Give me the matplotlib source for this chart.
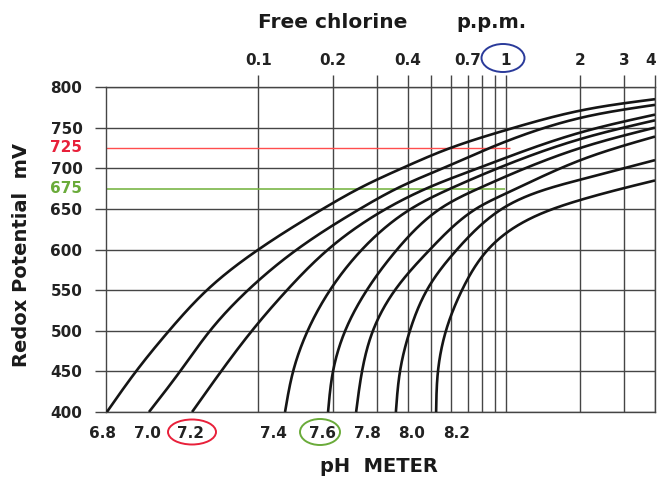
import numpy as np
import matplotlib.pyplot as plt
from matplotlib.patches import Ellipse
import matplotlib.transforms as mtransforms

# pH curves: free chlorine (ppm) vs redox potential (mV)
ppm_68 = [0.0244, 0.0320, 0.0435, 0.0619, 0.100, 0.182, 0.262, 0.380, 0.562, 1.0, 2.0, 4.0]
mv_68 = [400, 450, 500, 550, 600, 650, 677, 700, 722, 747, 771, 785]
ppm_70 = [0.0361, 0.0482, 0.0637, 0.0907, 0.143, 0.257, 0.373, 0.556, 0.815, 1.0, 2.0, 4.0]
mv_70 = [400, 450, 500, 550, 600, 650, 677, 700, 722, 733, 762, 778]
ppm_72 = [0.0539, 0.0706, 0.0941, 0.1304, 0.191, 0.3275, 0.493, 0.771, 1.0, 2.0, 4.0]
mv_72 = [400, 450, 500, 550, 600, 650, 677, 700, 713, 744, 766]
ppm_74 = [0.128, 0.138, 0.158, 0.1945, 0.262, 0.413, 0.617, 1.0, 2.0, 4.0]
mv_74 = [400, 450, 500, 550, 600, 650, 677, 704, 736, 759]
ppm_76 = [0.191, 0.200, 0.224, 0.274, 0.363, 0.541, 0.800, 1.0, 2.0, 4.0]
mv_76 = [400, 450, 500, 550, 600, 650, 677, 690, 725, 750]
ppm_78 = [0.248, 0.262, 0.290, 0.356, 0.493, 0.756, 1.0, 2.0, 4.0]
mv_78 = [400, 450, 500, 550, 600, 650, 669, 710, 739]
ppm_80 = [0.359, 0.373, 0.409, 0.479, 0.634, 0.963, 2.0, 4.0]
mv_80 = [400, 450, 500, 550, 600, 650, 686, 710]
ppm_82 = [0.522, 0.531, 0.572, 0.664, 0.846, 1.0, 2.0, 4.0]
mv_82 = [400, 450, 500, 550, 600, 620, 661, 685]

curves = [(ppm_68, mv_68), (ppm_70, mv_70), (ppm_72, mv_72), (ppm_74, mv_74),
          (ppm_76, mv_76), (ppm_78, mv_78), (ppm_80, mv_80), (ppm_82, mv_82)]
ph_labels = ['6.8', '7.0', '7.2', '7.4', '7.6', '7.8', '8.0', '8.2']

chlorine_lines = [0.1, 0.2, 0.3, 0.4, 0.5, 0.6, 0.7, 0.8, 0.9, 1, 2, 3, 4]
chlorine_labels = {0.1: '0.1', 0.2: '0.2', 0.4: '0.4', 0.7: '0.7', 1: '1', 2: '2', 3: '3', 4: '4'}
mv_ticks = [400, 450, 500, 550, 600, 650, 700, 750, 800]
red_level = 725
green_level = 675


def natural_spline(t, y, ts):
    # plain natural cubic spline, just to draw a smooth line through the read points
    t = np.asarray(t, float)
    y = np.asarray(y, float)
    n = len(t)
    h = np.diff(t)
    A = np.zeros((n, n))
    r = np.zeros(n)
    A[0, 0] = A[-1, -1] = 1
    for i in range(1, n - 1):
        A[i, i - 1] = h[i - 1]
        A[i, i] = 2 * (h[i - 1] + h[i])
        A[i, i + 1] = h[i]
        r[i] = 3 * ((y[i + 1] - y[i]) / h[i] - (y[i] - y[i - 1]) / h[i - 1])
    c = np.linalg.solve(A, r)
    b = np.diff(y) / h - h * (2 * c[:-1] + c[1:]) / 3
    d = np.diff(c) / (3 * h)
    k = np.clip(np.searchsorted(t, ts) - 1, 0, n - 2)
    s = ts - t[k]
    return y[k] + b[k] * s + c[k] * s**2 + d[k] * s**3


def smooth_curve(ppm, mv):
    # chord-length parameter in roughly screen-like units
    u = 247.5 * np.log10(ppm)
    v = 0.8125 * np.asarray(mv, float)
    t = np.concatenate([[0], np.cumsum(np.hypot(np.diff(u), np.diff(v)))])
    ts = np.linspace(0, t[-1], 600)
    return 10 ** (natural_spline(t, u, ts) / 247.5), natural_spline(t, v, ts) / 0.8125


W, H = 658, 479
fig = plt.figure(figsize=(W / 100, H / 100), dpi=100)
ax = fig.add_axes([106 / W, 1 - 412 / H, (655 - 106) / W, (412 - 87) / H])

grid_c = '#454545'
xmin = 10 ** ((106 - 506) / 247.5)
ax.set_xscale('log')
ax.set_xlim(xmin, 4)
ax.set_ylim(400, 800)

for v in chlorine_lines:
    ax.axvline(v, color=grid_c, lw=1.0, zorder=1)
for v in mv_ticks:
    ax.axhline(v, color=grid_c, lw=1.0, zorder=1)

ax.hlines(red_level, xmin, 1.04, color='#ff4d4d', lw=1.0, zorder=2)
ax.hlines(green_level, xmin, 0.99, color='#7ab648', lw=1.2, zorder=2)

for ppm, mv in curves:
    xs, ys = smooth_curve(ppm, mv)
    ax.plot(xs, ys, color='#151515', lw=1.9, zorder=3, solid_capstyle='butt')

for s in ax.spines.values():
    s.set_color(grid_c)
    s.set_linewidth(1.0)

# top axis: chlorine
ax.xaxis.set_ticks_position('top')
ax.xaxis.set_label_position('top')
ax.set_xticks(chlorine_lines)
ax.set_xticklabels([chlorine_labels.get(v, '') for v in chlorine_lines])
ax.xaxis.set_minor_locator(plt.NullLocator())
ax.tick_params(axis='x', which='major', direction='out', length=9, width=1.0,
               color=grid_c, pad=5, labelsize=11)
for lab in ax.get_xticklabels():
    lab.set_fontweight('bold')
    lab.set_color('#222222')
last = ax.get_xticklabels()[-1]
last.set_transform(last.get_transform() +
                   mtransforms.ScaledTranslation(-0.045, 0, fig.dpi_scale_trans))

ax.set_yticks(mv_ticks)
ax.tick_params(axis='y', direction='out', length=8, width=1.0, color=grid_c,
               pad=9, labelsize=11)
for lab in ax.get_yticklabels():
    lab.set_fontweight('bold')
    lab.set_color('#222222')

trans = mtransforms.blended_transform_factory(ax.transAxes, ax.transData)
ax.text(-24 / 549, red_level, str(red_level), transform=trans, ha='right', va='center',
        fontsize=11, fontweight='bold', color='#e8203a')
ax.text(-24 / 549, green_level, str(green_level), transform=trans, ha='right', va='center',
        fontsize=11, fontweight='bold', color='#6aab3a')

# pH labels along the bottom
ph_x_px = [103, 147, 190, 273, 322, 367, 412, 457]
for lab, xp in zip(ph_labels, ph_x_px):
    fig.text(xp / W, 1 - 433 / H, lab, ha='center', va='center', fontsize=11,
             fontweight='bold', color='#222222')

fig.text(333 / W, 1 - 22 / H, 'Free chlorine', ha='center', va='center', fontsize=14.5,
         color='#1a1a1a', fontweight='semibold')
fig.text(491 / W, 1 - 22 / H, 'p.p.m.', ha='center', va='center', fontsize=14,
         color='#1a1a1a', fontweight='bold')
fig.text(22 / W, 1 - 255 / H, 'Redox Potential  mV', rotation=90, ha='center',
         va='center', fontsize=14, fontweight='bold', color='#1a1a1a')
fig.text(379 / W, 1 - 466 / H, 'pH  METER', ha='center', va='center', fontsize=14,
         fontweight='bold', color='#1a1a1a')

for (cx, cy, w, h, c) in [(503, 58, 43, 28, '#2a3a9a'), (192, 432, 48, 25, '#e8203a'),
                          (320, 432, 40, 26, '#6aab3a')]:
    fig.patches.append(Ellipse((cx / W, 1 - cy / H), w / W, h / H, fill=False,
                               edgecolor=c, lw=1.4, transform=fig.transFigure))

fig.savefig('out.png', dpi=100, facecolor='white')
